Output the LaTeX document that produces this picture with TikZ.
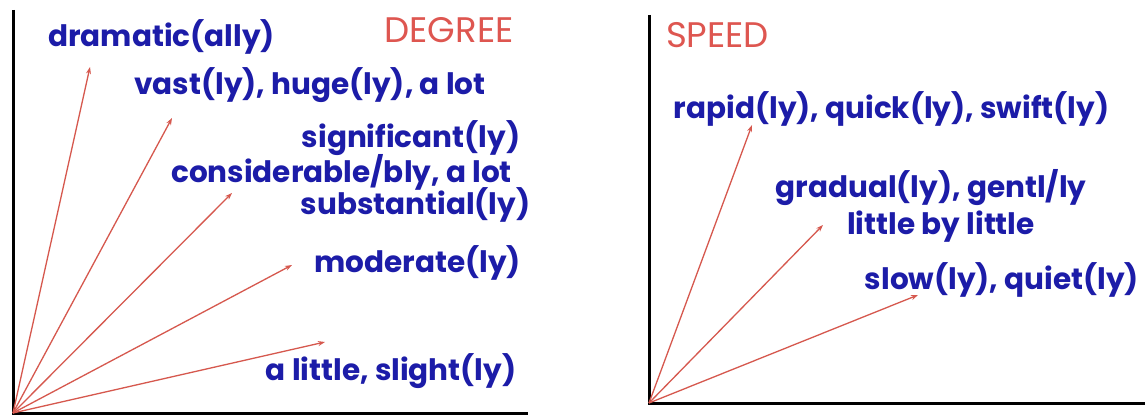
\documentclass[tikz,border=0pt]{standalone}
\usepackage{fontspec}
\setmainfont{Poppins}
\usetikzlibrary{arrows.meta}
\definecolor{txtblue}{RGB}{28,28,168}
\definecolor{titred}{RGB}{222,86,80}
\definecolor{arrred}{RGB}{214,88,78}
\tikzset{
  lbl/.style={anchor=base, inner sep=0pt, text=txtblue, font=\fontsize{29.5}{34}\selectfont\bfseries},
  ttl/.style={anchor=base, inner sep=0pt, text=titred, font=\fontsize{35.5}{40}\selectfont},
  axisline/.style={draw=black, line width=3pt},
  ray/.style={draw=arrred, line width=1.3pt, -{Stealth[length=7pt,width=5pt]}},
}
\begin{document}
\begin{tikzpicture}[x=1pt,y=-1pt]
\useasboundingbox[fill=white] (0,0) rectangle (1145,417);
% ---------- DEGREE panel ----------
\coordinate (o1) at (13,413);
\coordinate (y1) at (13,10);
\coordinate (x1) at (528,413);
\draw[axisline] (y1) -- (o1) -- (x1);
\node[lbl] (dram) at (161.5,47) {dramatic(ally)};
\node[ttl] (deg) at (449,43) {DEGREE};
\node[lbl] (vast) at (310,95) {vast(ly), huge(ly), a lot};
\node[lbl] (sig) at (411,147) {significant(ly)};
\node[lbl] (cons) at (341.5,182) {considerable/bly, a lot};
\node[lbl] (subs) at (415.5,214) {substantial(ly)};
\node[lbl] (mod) at (417.5,272) {moderate(ly)};
\node[lbl] (lit) at (391,380) {a little, slight(ly)};
\coordinate (t1) at (90,67);
\coordinate (t2) at (172,118);
\coordinate (t3) at (232,193);
\coordinate (t4) at (292,265);
\coordinate (t5) at (325,342);
\foreach \t in {t1,t2,t3,t4,t5} \draw[ray] (o1) -- (\t);
% ---------- SPEED panel ----------
\coordinate (o2) at (649,403);
\coordinate (y2) at (649,15);
\coordinate (x2) at (1145,403);
\draw[axisline] (y2) -- (o2) -- (x2);
\node[ttl] (spd) at (717.5,48) {SPEED};
\node[lbl] (rap) at (891.5,118) {rapid(ly), quick(ly), swift(ly)};
\node[lbl] (grad) at (931,197) {gradual(ly), gentl/ly};
\node[lbl] (lbl2) at (941,234) {little by little};
\node[lbl,anchor=base east] (slow) at (1139,289) {slow(ly), quiet(ly)};
\coordinate (s1) at (752,125);
\coordinate (s2) at (823,225);
\coordinate (s3) at (918,295);
\foreach \t in {s1,s2,s3} \draw[ray] (o2) -- (\t);
\end{tikzpicture}
\end{document}
